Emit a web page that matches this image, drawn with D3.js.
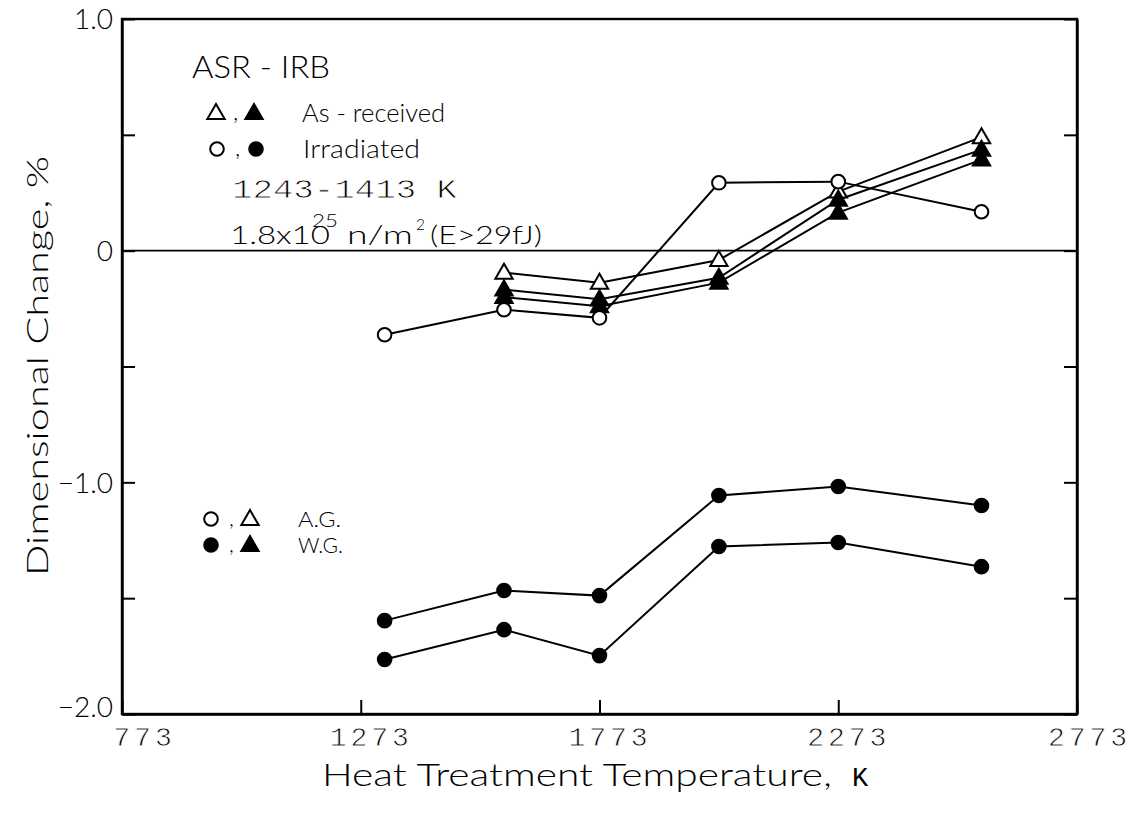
<!DOCTYPE html>
<html><head><meta charset="utf-8">
<script src="https://cdn.jsdelivr.net/npm/d3@7"></script>
<style>body{margin:0;background:#fff}</style>
</head><body><svg id="c" width="1137" height="814"></svg>
<script>
// ---- data ----
const temps = [1323, 1573, 1773, 2023, 2273, 2573];
const agAsReceived   = [null, -0.095, -0.138, -0.040, 0.255, 0.490];
const wgAsReceivedA  = [null, -0.168, -0.210, -0.117, 0.220, 0.436];
const wgAsReceivedB  = [null, -0.200, -0.240, -0.138, 0.164, 0.393];
const agIrradiated   = [-0.363, -0.255, -0.290, 0.293, 0.298, 0.168];
const wgIrradiatedA  = [-1.597, -1.467, -1.489, -1.057, -1.018, -1.100];
const wgIrradiatedB  = [-1.765, -1.636, -1.748, -1.277, -1.260, -1.364];
const xTicks = [773, 1273, 1773, 2273, 2773];
const yTicks = [-2, -1.5, -1, -0.5, 0, 0.5, 1];
const yTickLabels = {"-2": "\u22122.0", "-1": "\u22121.0", "0": "0", "1": "1.0"};

const svg = d3.select("#c");
const L = 122, R = 1077, T = 19, B = 714;
const x = d3.scaleLinear().domain([773, 2773]).range([L, R]);
const y = d3.scaleLinear().domain([-2, 1]).range([B, T]);

const SANS = "Lato,'Liberation Sans',Arial,sans-serif";
const MONO = "'Liberation Mono','DejaVu Sans Mono',monospace";

// frame
svg.append("rect").attr("x", L).attr("y", T).attr("width", R - L).attr("height", B - T)
  .attr("fill", "none").attr("stroke", "#000").attr("stroke-width", 2.4);

// left axis
const gl = svg.append("g").attr("transform", `translate(${L},0)`)
  .call(d3.axisLeft(y).tickValues(yTicks).tickSizeInner(-13).tickSizeOuter(0).tickPadding(9)
    .tickFormat(d => yTickLabels[String(d)] || ""));
gl.select(".domain").attr("stroke-width", 2.4);
gl.selectAll(".tick line").attr("stroke-width", 2);
gl.selectAll(".tick text").attr("font-family", SANS).attr("font-size", 28)
  .attr("font-weight", 300).attr("fill", "#000")
  .attr("dy", d => d === -2 ? "0.1em" : "0.35em");

// right axis
const gr = svg.append("g").attr("transform", `translate(${R},0)`)
  .call(d3.axisRight(y).tickValues(yTicks).tickSizeInner(-13).tickSizeOuter(0).tickFormat(""));
gr.select(".domain").attr("stroke-width", 2.4);
gr.selectAll(".tick line").attr("stroke-width", 2);

// bottom axis
const gb = svg.append("g").attr("transform", `translate(0,${B})`)
  .call(d3.axisBottom(x).tickValues(xTicks).tickSizeInner(-14).tickSizeOuter(0).tickPadding(12)
    .tickFormat(d3.format("d")));
gb.select(".domain").attr("stroke-width", 2.4);
gb.selectAll(".tick line").attr("stroke-width", 2);
gb.selectAll(".tick text").attr("font-family", MONO).attr("font-size", 28)
  .attr("letter-spacing", 4).attr("stroke", "#fff").attr("stroke-width", 0.8)
  .attr("dx", d => d === 773 ? 22 : (d === 2773 ? 12 : 10));

// zero line
svg.append("line").attr("x1", L).attr("x2", R).attr("y1", y(0)).attr("y2", y(0))
  .attr("stroke", "#000").attr("stroke-width", 1.8);

// lines
const line = d3.line().defined(d => d[1] !== null).x(d => x(d[0])).y(d => y(d[1]));
const series = [
  {v: agAsReceived,  m: "tri",  fill: "#fff"},
  {v: wgAsReceivedA, m: "tri",  fill: "#000"},
  {v: wgAsReceivedB, m: "tri",  fill: "#000"},
  {v: agIrradiated,  m: "circ", fill: "#fff"},
  {v: wgIrradiatedA, m: "circ", fill: "#000"},
  {v: wgIrradiatedB, m: "circ", fill: "#000"}
];
series.forEach(s => {
  const pts = temps.map((t, i) => [t, s.v[i]]);
  svg.append("path").datum(pts).attr("d", line).attr("fill", "none")
    .attr("stroke", "#000").attr("stroke-width", 2);
});
const triSym = d3.symbol(d3.symbolTriangle, 130);
function marker(g, m, fill, cx, cy) {
  if (m === "tri") {
    g.append("path").attr("d", triSym()).attr("transform", `translate(${cx},${cy + 1})`)
      .attr("fill", fill).attr("stroke", "#000").attr("stroke-width", 2);
  } else {
    g.append("circle").attr("cx", cx).attr("cy", cy).attr("r", 6.8)
      .attr("fill", fill).attr("stroke", "#000").attr("stroke-width", 2);
  }
}
const mg = svg.append("g");
series.forEach(s => {
  temps.forEach((t, i) => { if (s.v[i] !== null) marker(mg, s.m, s.fill, x(t), y(s.v[i])); });
});

// text helper
function txt(str, xx, yy, size, len, fam) {
  const t = svg.append("text").attr("x", xx).attr("y", yy).attr("font-size", size)
    .attr("font-family", fam || SANS).attr("font-weight", fam ? 400 : 300).text(str);
  if (fam) t.attr("stroke", "#fff").attr("stroke-width", 0.8);
  if (len) t.attr("textLength", len).attr("lengthAdjust", "spacingAndGlyphs");
  return t;
}

// legend top
txt("ASR - IRB", 192, 78, 31, 138);
marker(svg, "tri", "#fff", 216, 113); txt(",", 233, 120, 24);
marker(svg, "tri", "#000", 254, 113);
txt("As - received", 302, 122, 26, 143);
marker(svg, "circ", "#fff", 217, 149); txt(",", 235, 156, 24);
marker(svg, "circ", "#000", 256, 149);
txt("Irradiated", 303, 158, 26, 117);
txt("1243-1413 K", 232, 198, 27, 225, MONO);
txt("1.8x10", 230, 244, 25, 100);
txt("25", 312, 227, 18, 26);
txt("n/m", 347, 244, 25, 66);
txt("2", 416, 230, 16, 9);
txt("(E>29fJ)", 430, 244, 25, 112);

// legend bottom
marker(svg, "circ", "#fff", 211, 519); txt(",", 229, 526, 22);
marker(svg, "tri", "#fff", 250, 519);
txt("A.G.", 298, 527, 22, 43);
marker(svg, "circ", "#000", 211, 545); txt(",", 229, 552, 22);
marker(svg, "tri", "#000", 250, 545);
txt("W.G.", 298, 553, 22, 45);

// axis titles
const xt = svg.append("text").attr("x", 322).attr("y", 786).attr("font-size", 31)
  .attr("font-family", SANS).attr("font-weight", 300);
xt.append("tspan").text("Heat Treatment Temperature,").attr("textLength", 510)
  .attr("lengthAdjust", "spacingAndGlyphs");
xt.append("tspan").attr("dx", 20).attr("font-family", MONO).attr("font-weight", 400)
  .attr("font-size", 27).text("K");

svg.append("text").attr("transform", "translate(48,366) rotate(-90)")
  .attr("text-anchor", "middle").attr("font-size", 30).attr("font-family", SANS)
  .attr("font-weight", 300)
  .attr("textLength", 420).attr("lengthAdjust", "spacingAndGlyphs")
  .text("Dimensional Change, %");
</script></body></html>
